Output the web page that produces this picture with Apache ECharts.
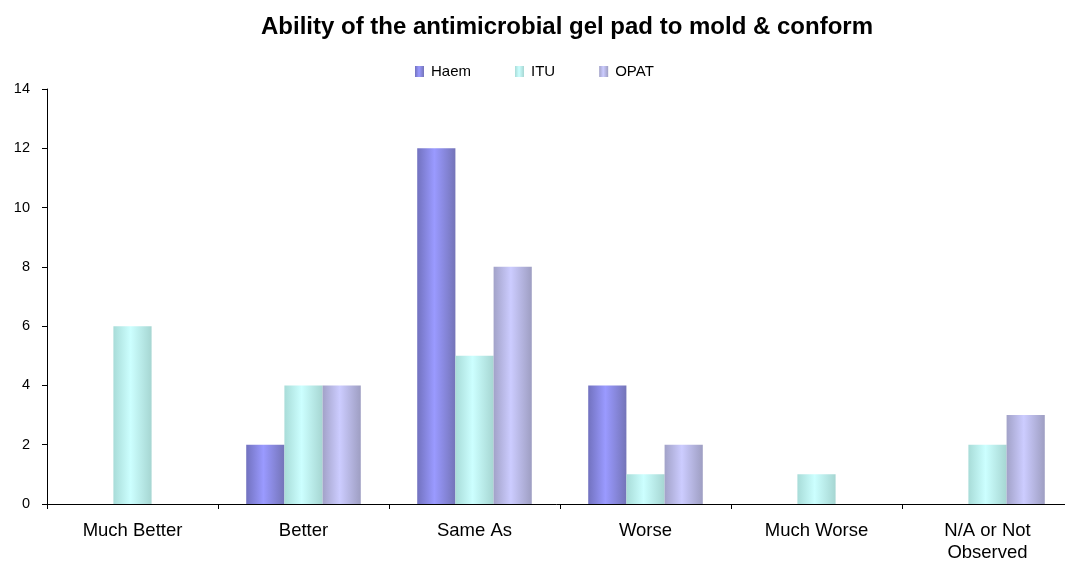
<!DOCTYPE html>
<html>
<head>
<meta charset="utf-8">
<script src="https://cdn.jsdelivr.net/npm/echarts@6/dist/echarts.min.js"></script>
<style>
  html, body { margin: 0; padding: 0; background: #fff; }
  #chart { width: 1065px; height: 563px; }
</style>
</head>
<body>
<div id="chart"></div>
<script>
const categories = ['Much Better', 'Better', 'Same As', 'Worse', 'Much Worse', 'N/A or Not\nObserved'];
const haem = [0, 2, 12, 4, 0, 0];
const itu = [6, 4, 5, 1, 1, 2];
const opat = [0, 4, 8, 2, 0, 3];
const yTicks = [0, 2, 4, 6, 8, 10, 12, 14];

// cylinder-like horizontal shading: darker edges, light centre
function shade(edgeL, mid, edgeR) {
  return new echarts.graphic.LinearGradient(0, 0, 1, 0, [
    { offset: 0, color: edgeL },
    { offset: 0.45, color: mid },
    { offset: 1, color: edgeR }
  ]);
}

const chart = echarts.init(document.getElementById('chart'), null, { renderer: 'canvas' });
const font = 'Liberation Sans, Arial, sans-serif';

chart.setOption({
  animation: false,
  backgroundColor: '#ffffff',
  title: {
    text: 'Ability of the antimicrobial gel pad to mold & conform',
    left: 562, top: 10, textAlign: 'center',
    textStyle: { fontFamily: font, fontSize: 24, fontWeight: 'bold', color: '#000' }
  },
  legend: {
    top: 64, left: 415, padding: 0,
    itemWidth: 9, itemHeight: 11, itemGap: 44,
    icon: 'rect',
    textStyle: { fontFamily: font, fontSize: 15, color: '#000', padding: [0, 0, 0, 2] },
    data: ['Haem', 'ITU', 'OPAT']
  },
  grid: { left: 47, top: 89, width: 1026, height: 415, containLabel: false, outerBoundsMode: 'none' },
  xAxis: {
    type: 'category',
    data: categories,
    axisLine: { lineStyle: { color: '#000', width: 1 } },
    axisTick: { show: true, length: 5, alignWithLabel: false, lineStyle: { color: '#000' } },
    axisLabel: { fontFamily: font, fontSize: 18.5, color: '#000', margin: 16, lineHeight: 22, interval: 0 },
    splitLine: { show: false }
  },
  yAxis: {
    type: 'value',
    min: yTicks[0], max: yTicks[yTicks.length - 1], interval: 2,
    axisLine: { show: true, lineStyle: { color: '#000', width: 1 } },
    axisTick: { show: true, length: 5, lineStyle: { color: '#000' } },
    axisLabel: { fontFamily: font, fontSize: 14.5, color: '#000', margin: 17 },
    splitLine: { show: false }
  },
  series: [
    {
      name: 'Haem', type: 'bar', data: haem,
      barCategoryGap: '33%', barGap: '0%',
      itemStyle: { color: shade('#7272bf', '#9a9aff', '#7474b8') }
    },
    {
      name: 'ITU', type: 'bar', data: itu,
      barCategoryGap: '33%', barGap: '0%',
      itemStyle: { color: shade('#a8dcd8', '#ccffff', '#a6d6d2') }
    },
    {
      name: 'OPAT', type: 'bar', data: opat,
      barCategoryGap: '33%', barGap: '0%',
      itemStyle: { color: shade('#a2a2c8', '#ccccff', '#9e9ec2') }
    }
  ]
});
</script>
</body>
</html>
